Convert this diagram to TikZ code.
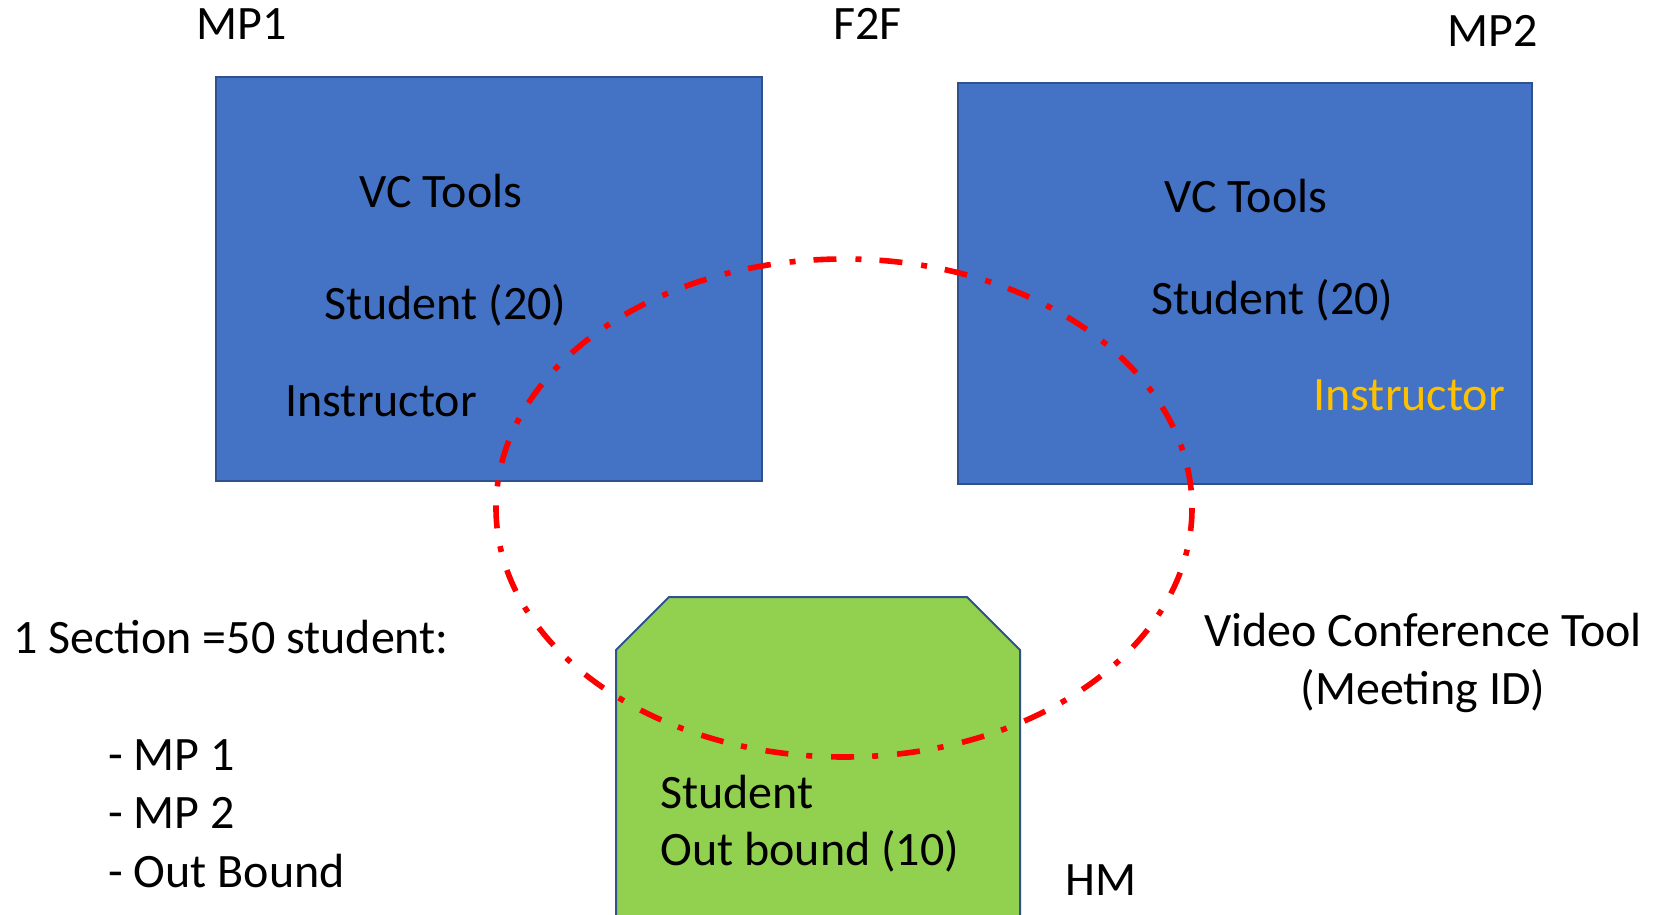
\documentclass[tikz,border=0pt]{standalone}
\usepackage{fontspec}
\setmainfont{Carlito}
\definecolor{boxblue}{HTML}{4472C4}
\definecolor{edgeblue}{HTML}{2F528F}
\definecolor{hmgreen}{HTML}{92D050}
\definecolor{instyellow}{HTML}{FFC000}
\begin{document}
\begin{tikzpicture}[x=0.5pt, y=-0.5pt, font=\fontsize{24}{29}\selectfont]
    \tikzstyle{box}=[rectangle, fill=boxblue, draw=edgeblue, line width=1pt, inner sep=0pt]
    \tikzstyle{lbl}=[anchor=base west, inner sep=0pt]
    \tikzstyle{vcring}=[draw=red, line width=2.8pt, dash pattern=on 11.5pt off 9.5pt on 3pt off 9pt]
    \useasboundingbox (0,0) rectangle (1654,915);
    \node[box, minimum width=273pt, minimum height=202pt] (mp1box) at (489,279) {};
    \node[box, minimum width=287pt, minimum height=200.5pt] (mp2box) at (1245,283.5) {};
    \filldraw[fill=hmgreen, draw=edgeblue, line width=1pt] (616,940) -- (616,650) -- (669,597) -- (967,597) -- (1020,650) -- (1020,940) -- cycle;
    \draw[vcring] (844,508) ellipse [x radius=348, y radius=249];
    \node[lbl] (mp1) at (196,40) {MP1};
    \node[lbl] (f2f) at (833,40) {F2F};
    \node[lbl] (mp2) at (1447,47) {MP2};
    \node[lbl] (vc1) at (359,207) {VC Tools};
    \node[lbl] (st1) at (324,319) {Student (20)};
    \node[lbl] (in1) at (285,416) {Instructor};
    \node[lbl] (vc2) at (1164,212) {VC Tools};
    \node[lbl] (st2) at (1151,314) {Student (20)};
    \node[lbl, text=instyellow] (in2) at (1313,410) {Instructor};
    \node[lbl] (sec) at (13,653) {1 Section =50 student:};
    \node[lbl] (l1) at (108,770) {- MP 1};
    \node[lbl] (l2) at (108,828) {- MP 2};
    \node[lbl] (l3) at (108,887) {- Out Bound};
    \node[anchor=base, inner sep=0pt, align=center] (vct) at (1423,704) {Video Conference Tool\\(Meeting ID)};
    \node[lbl] (st3) at (660,808) {Student};
    \node[lbl] (ob) at (660,865) {Out bound (10)};
    \node[lbl] (hm) at (1065,895) {HM};
    %\draw (mp1box) (mp2box) (vct);
  \end{tikzpicture}
\end{document}
